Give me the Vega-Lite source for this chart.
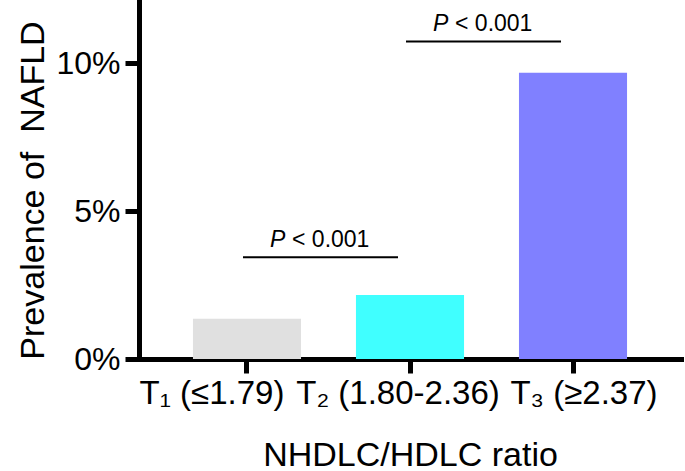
{
  "$schema": "https://vega.github.io/schema/vega-lite/v6.json",
  "width": 542,
  "height": 359,
  "autosize": "none",
  "padding": {"left": 139, "top": 0, "right": 4, "bottom": 112},
  "background": "white",
  "config": {
    "font": "Liberation Sans",
    "view": {"stroke": null},
    "axis": {"grid": false, "domainColor": "black", "tickColor": "black", "labelColor": "black", "titleColor": "black", "titleFontWeight": "normal", "domainCap": "square"}
  },
  "layer": [
    {
      "data": {"values": [
        {"group": "T₁ (≤1.79)", "prevalence": 1.36},
        {"group": "T₂ (1.80-2.36)", "prevalence": 2.16},
        {"group": "T₃ (≥2.37)", "prevalence": 9.67}
      ]},
      "mark": {"type": "bar"},
      "encoding": {
        "x": {"field": "group", "type": "nominal", "title": "NHDLC/HDLC ratio",
          "scale": {"domain": ["T₁ (≤1.79)", "T₂ (1.80-2.36)", "T₃ (≥2.37)"], "paddingInner": 0.337, "paddingOuter": 0.331},
          "axis": {"labelAngle": 0, "labelFontSize": 33, "labelPadding": 4, "labelLimit": 0, "labelOverlap": false, "tickSize": 14, "tickWidth": 5, "domainWidth": 5, "titleFontSize": 34, "titleBaseline": "alphabetic", "titleY": 106,
            "labelOffset": {"condition": [{"test": "datum.value === 'T₁ (≤1.79)'", "value": -35}, {"test": "datum.value === 'T₂ (1.80-2.36)'", "value": -12}], "value": 11}}},
        "y": {"field": "prevalence", "type": "quantitative", "title": "Prevalence of\u00a0\u00a0NAFLD",
          "scale": {"domain": [0, 12.13], "nice": false},
          "axis": {"values": [0, 5, 10], "labelExpr": "datum.value + '%'", "labelFontSize": 32, "labelPadding": 5, "tickSize": 14, "tickWidth": 5, "domainWidth": 5, "titleFontSize": 34, "titleBaseline": "alphabetic", "titleX": -96, "titleY": 190, "titleAngle": -90}},
        "color": {"field": "group", "type": "nominal", "legend": null,
          "scale": {"domain": ["T₁ (≤1.79)", "T₂ (1.80-2.36)", "T₃ (≥2.37)"], "range": ["#e0e0e0", "#40ffff", "#8080ff"]}}
      }
    },
    {
      "data": {"values": [
        {"from": "T₁ (≤1.79)", "to": "T₂ (1.80-2.36)", "liney": 3.44, "texty": 3.78},
        {"from": "T₂ (1.80-2.36)", "to": "T₃ (≥2.37)", "liney": 10.73, "texty": 11.08}
      ]},
      "layer": [
        {
          "mark": {"type": "rule", "strokeWidth": 2, "color": "black", "xOffset": -4, "x2Offset": -12},
          "encoding": {
            "x": {"field": "from", "type": "nominal", "title": "NHDLC/HDLC ratio"},
            "x2": {"field": "to"},
            "y": {"field": "liney", "type": "quantitative", "title": "Prevalence of\u00a0\u00a0NAFLD"}
          }
        },
        {
          "mark": {"type": "text", "text": "P", "fontStyle": "italic", "fontSize": 23, "align": "left", "baseline": "alphabetic", "xOffset": -31, "color": "black"},
          "encoding": {
            "x": {"field": "from", "type": "nominal", "title": "NHDLC/HDLC ratio", "bandPosition": 1},
            "y": {"field": "texty", "type": "quantitative", "title": "Prevalence of\u00a0\u00a0NAFLD"}
          }
        },
        {
          "mark": {"type": "text", "text": "< 0.001", "fontSize": 23, "align": "left", "baseline": "alphabetic", "xOffset": -9, "color": "black"},
          "encoding": {
            "x": {"field": "from", "type": "nominal", "title": "NHDLC/HDLC ratio", "bandPosition": 1},
            "y": {"field": "texty", "type": "quantitative", "title": "Prevalence of\u00a0\u00a0NAFLD"}
          }
        }
      ]
    }
  ]
}
